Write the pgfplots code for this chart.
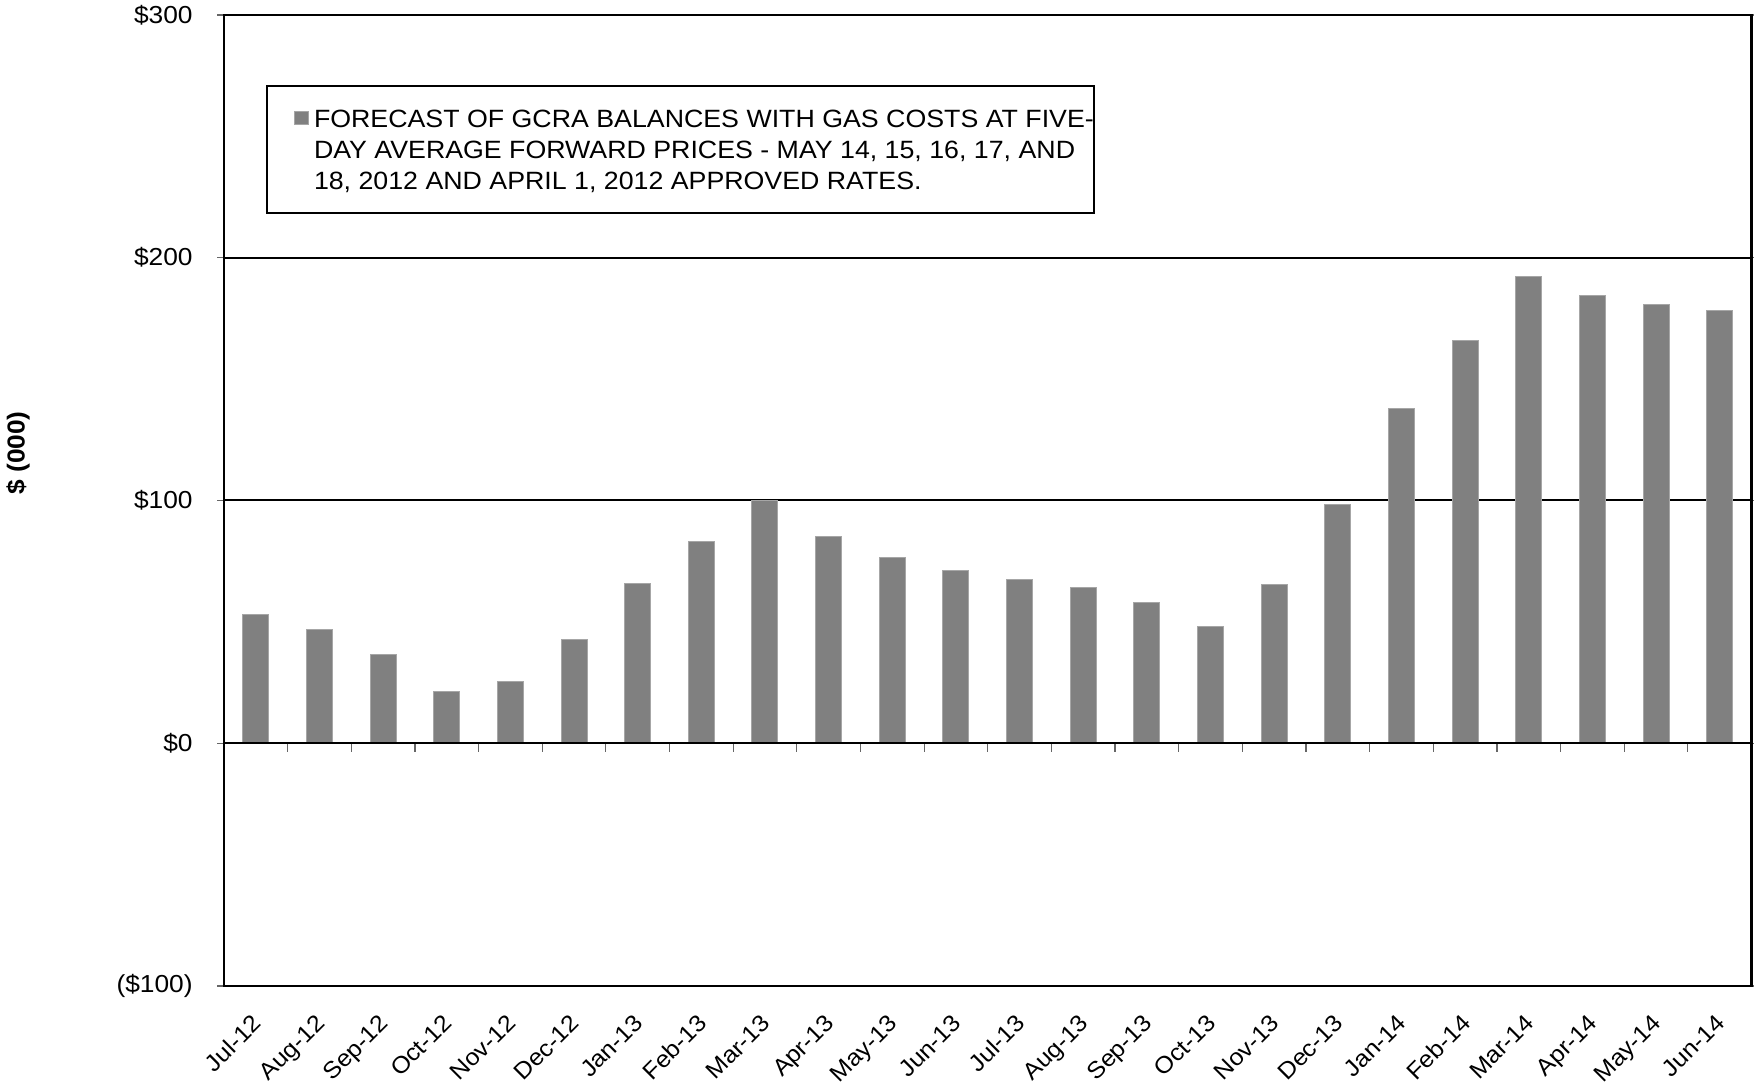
\documentclass[border=0pt]{standalone}
\usepackage{fontspec}
\setmainfont{Liberation Sans}[FakeStretch=1.07]
\usepackage{pgfplots}
\pgfplotsset{compat=1.18}
\begin{document}
\fontsize{12.3}{15.4}\selectfont
\begin{tikzpicture}
\path[use as bounding box] (0pt,0pt) rectangle (877pt,543pt);
\begin{axis}[
  at={(112pt,50pt)}, anchor=south west,
  scale only axis, width=763.75pt, height=485.5pt,
  xmin=-0.5, xmax=23.5, ymin=-100, ymax=300,
  ytick={-100,0,100,200,300},
  yticklabels={(\$100),\$0,\$100,\$200,\$300},
  xtick={0,...,23},
  xticklabels={Jul-12,Aug-12,Sep-12,Oct-12,Nov-12,Dec-12,Jan-13,Feb-13,Mar-13,Apr-13,May-13,Jun-13,Jul-13,Aug-13,Sep-13,Oct-13,Nov-13,Dec-13,Jan-14,Feb-14,Mar-14,Apr-14,May-14,Jun-14},
  axis line style={black, line width=1.3pt},
  ymajorgrids, grid style={black, line width=1pt},
  tick align=outside,
  major tick length=3.5pt,
  ytick style={black!60, line width=0.6pt},
  xtick style={draw=none},
  tick label style={font=\fontsize{12.3}{15.4}\selectfont},
  /pgf/number format/assume math mode=true,
  yticklabel style={anchor=east, inner sep=0pt, xshift=-12pt},
  xticklabel style={font=\fontsize{11.7}{14}\selectfont, xshift=-2.5pt, yshift=-9.75pt, rotate=45, anchor=north east, inner sep=0pt},
  every axis y label/.style={at={(axis description cs:-0.1349,0.549)}, rotate=90, anchor=center, font=\bfseries\fontsize{12.3}{15.4}\selectfont},
  ylabel={\$ (000)},
  legend style={at={(0.0275,0.9274)}, anchor=north west, draw=black, line width=1pt,
    inner sep=0pt, column sep=0pt, cells={anchor=base west}, nodes={inner sep=0pt},
    font=\fontsize{12.5}{15.4}\selectfont},
]
\addplot[ybar, bar width=13pt, fill=black!50, draw=black!35, line width=0.5pt,
  legend image code/.code={\path (-13.5pt,0pt) (9.5pt,0pt);
    \path[fill=black!50, draw=black!35, line width=0.4pt] (0pt,42.5pt) rectangle (7pt,49pt);}]
coordinates {
(0,53.2) (1,46.8) (2,36.6) (3,21.4) (4,25.6) (5,42.6) (6,65.7) (7,83.2)
(8,99.8) (9,85.0) (10,76.7) (11,71.2) (12,67.5) (13,64.3) (14,57.8) (15,48.2)
(16,65.2) (17,98.4) (18,138.0) (19,166.1) (20,192.2) (21,184.5) (22,180.7) (23,178.3)
};
\addlegendentry{\raisebox{10pt}[61.3pt][0pt]{\begin{tabular}[b]{@{}l@{}}FORECAST OF GCRA BALANCES WITH GAS COSTS AT FIVE-\\DAY AVERAGE FORWARD PRICES - MAY 14, 15, 16, 17, AND\\18, 2012 AND APRIL 1, 2012 APPROVED RATES.\end{tabular}}\hspace{9pt}}
\end{axis}
\begin{axis}[
  at={(112pt,50pt)}, anchor=south west,
  scale only axis, width=763.75pt, height=485.5pt,
  xmin=-0.5, xmax=23.5, ymin=-100, ymax=300,
  axis x line=middle, axis y line=none,
  x axis line style={-, black, line width=1pt},
  xtick={0.5,1.5,...,22.5}, xticklabels={},
  tick align=outside, major tick length=4.2pt,
  xtick style={black!60, line width=0.6pt},
]
\end{axis}
\end{tikzpicture}
\end{document}
